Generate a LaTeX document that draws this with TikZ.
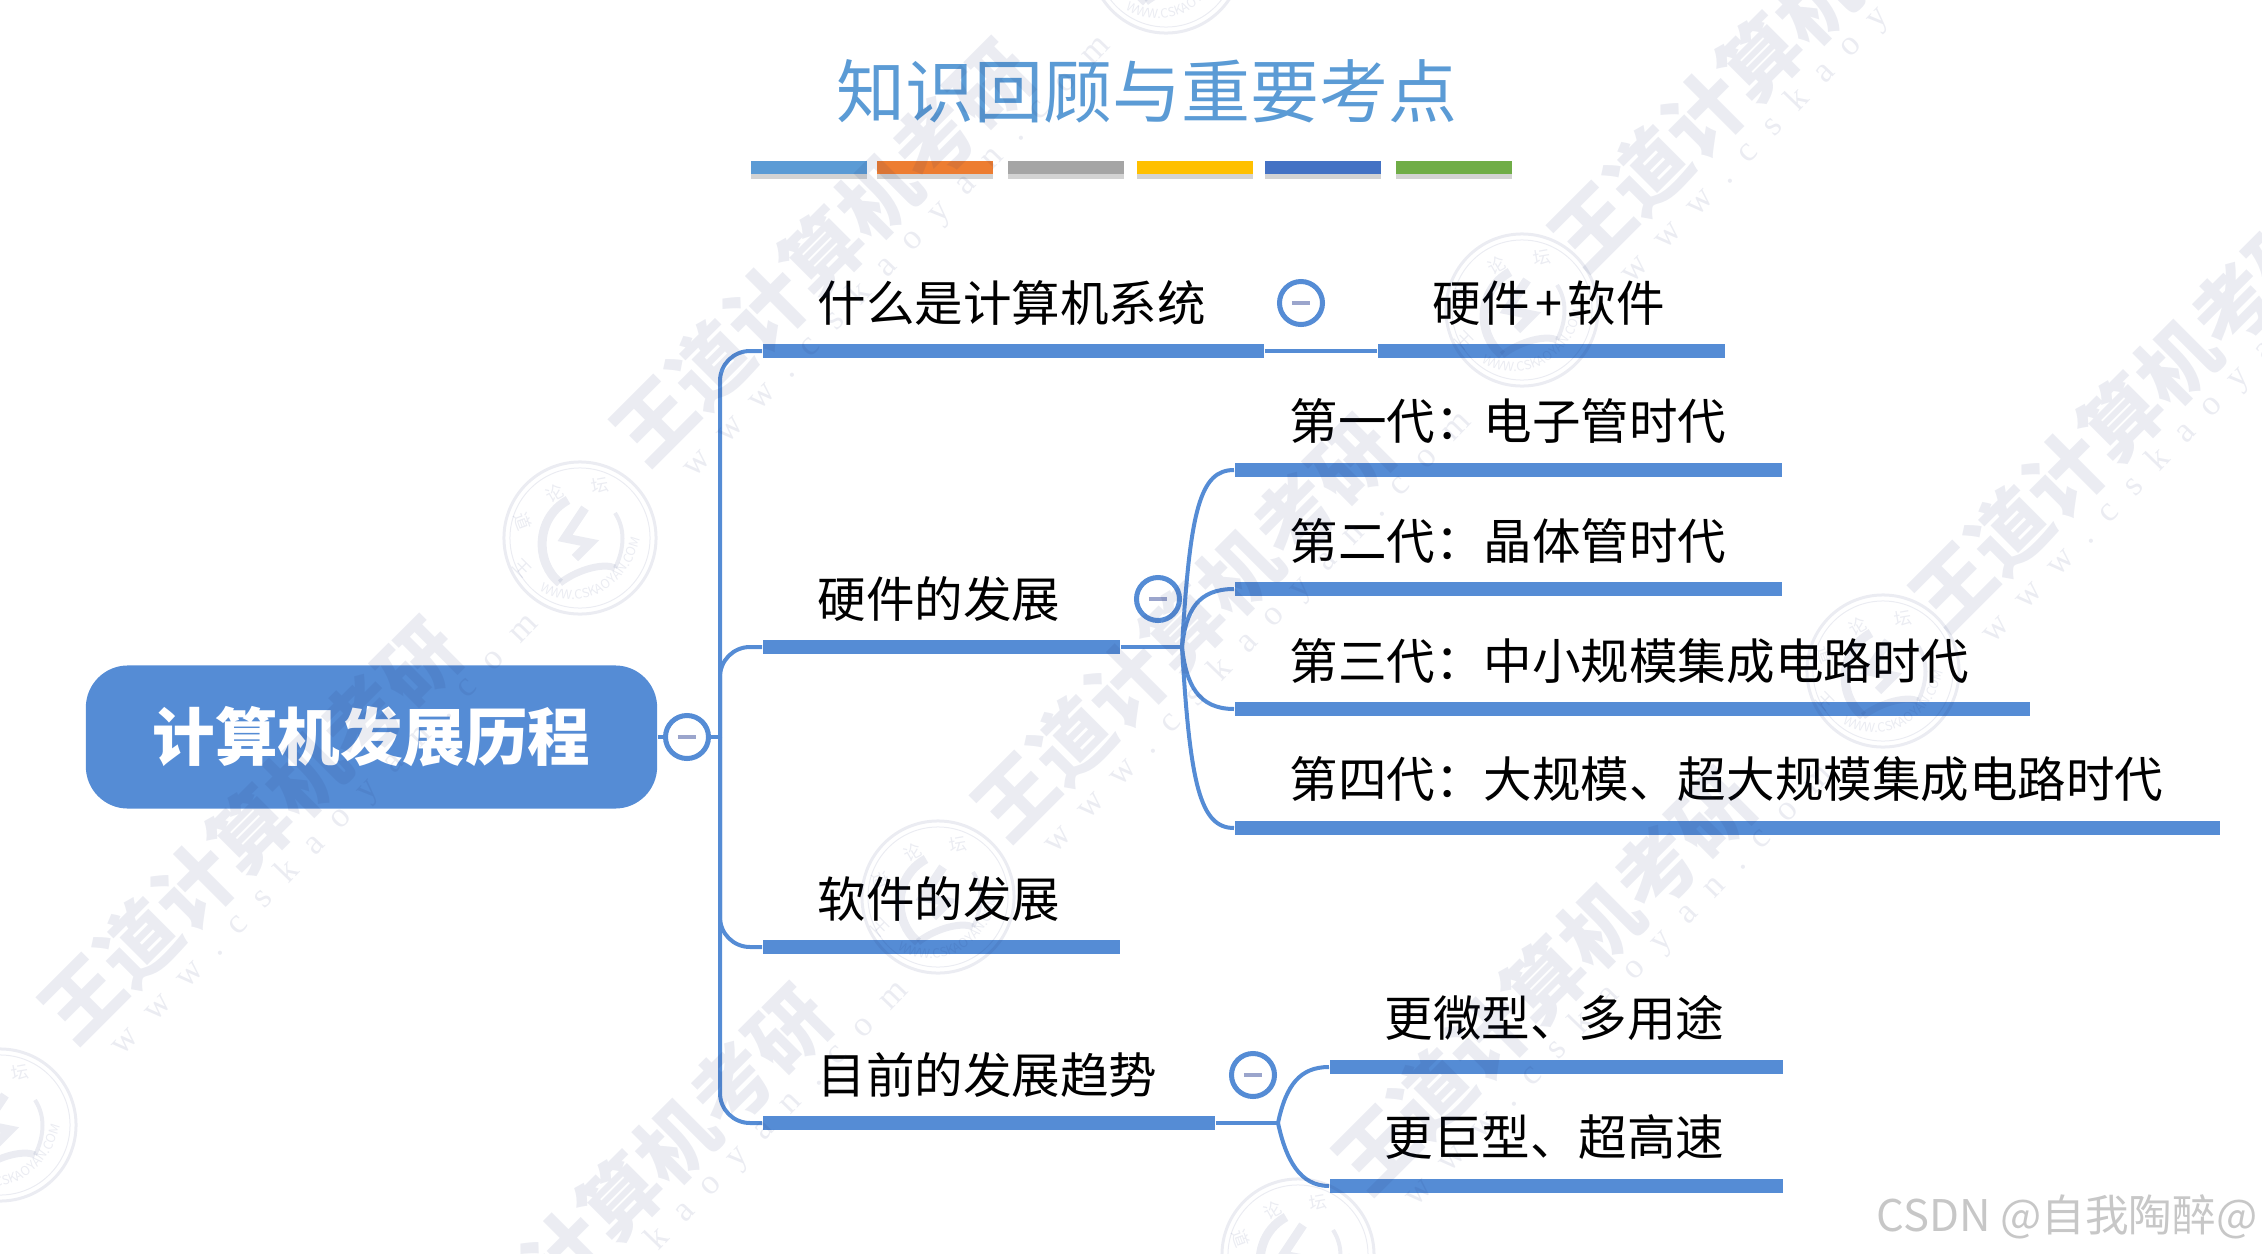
\documentclass[tikz,border=0pt]{standalone}
\usepackage{fontspec}
\usepackage{xcolor}
\usetikzlibrary{calc,shadows,decorations.text}
\setmainfont{Noto Sans CJK SC}
\newfontfamily\urlfont[LetterSpace=60]{Liberation Serif}
\definecolor{mapblue}{HTML}{558CD5}
\definecolor{titleblue}{HTML}{5B9BD5}
\definecolor{minusgray}{HTML}{9BA5CC}
\definecolor{wmcolor}{HTML}{1F2F70}
\tikzset{
  link/.style={draw=mapblue,line width=0.04cm},
  bar/.style={fill=mapblue,anchor=west,minimum height=0.145cm},
  dot/.style={circle,draw=mapblue,line width=0.05cm,fill=white,minimum size=0.43cm},
  topic/.style={anchor=west,font=\fontsize{13.8}{16}\selectfont},
  stripe/.style={anchor=west,minimum width=1.16cm,minimum height=0.13cm,drop shadow={shadow xshift=0cm,shadow yshift=-0.05cm,opacity=0.35}},
  wmtext/.style={rotate=45,font=\fontsize{22.5}{26}\selectfont\bfseries,text=wmcolor},
  wmurl/.style={rotate=46,font=\urlfont\fontsize{10}{12}\selectfont,text=wmcolor},
  wmline/.style={draw=wmcolor,line width=0.03cm}
}
\newcommand{\minusmark}{\textcolor{minusgray}{\rule{5.2pt}{1.4pt}}}
\newcommand{\sealmark}[1]{
\begin{scope}[shift={(#1)}]
\draw [wmline] (0,0) circle (0.76cm);
\draw [wmline,line width=0.01cm] (0,0) circle (0.7cm);
\draw [wmline,line width=0.09cm] (-12,-38) .. controls (-45,-20) and (-45,25) .. (-20,45);
\draw [wmline,line width=0.07cm] (-20,45) .. controls (0,30) and (25,25) .. (35,30);
\draw [wmline,line width=0.04cm] (35,30) .. controls (45,10) and (45,-10) .. (35,-25);
\draw [wmline,line width=0.09cm] (5,-30) -- (-15,0) -- (10,5) -- (-5,20);
\node [text=wmcolor,font=\fontsize{5}{5}\selectfont,rotate=-45] at (-58,30) {王};
\node [text=wmcolor,font=\fontsize{5}{5}\selectfont,rotate=-70] at (-57,-17) {道};
\node [text=wmcolor,font=\fontsize{5}{5}\selectfont,rotate=30] at (-25,-45) {论};
\node [text=wmcolor,font=\fontsize{5}{5}\selectfont,rotate=10] at (20,-53) {坛};
\path [decorate,decoration={text along path,text color=wmcolor,text={|\fontsize{3.6}{4}\selectfont|WWW.CSKAOYAN.COM}}] (-40,52) .. controls (0,78) and (55,50) .. (63,-12);
\end{scope}
}
\begin{document}
\begin{tikzpicture}[x=0.01cm,y=-0.01cm]
\tikzstyle{every node}+=[inner sep=0pt]
\useasboundingbox (0,0) rectangle (2262,1254);
\node [text=titleblue,font=\fontsize{19.6}{24}\selectfont] (title) at (1147,91) {知识回顾与重要考点};
\node [stripe,fill=titleblue] (stripeone) at (750,167) {};
\node [stripe,fill={rgb,255:red,237;green,125;blue,49}] (stripetwo) at (876,167) {};
\node [stripe,fill={rgb,255:red,165;green,165;blue,165}] (stripethree) at (1007,167) {};
\node [stripe,fill={rgb,255:red,255;green,192;blue,0}] (stripefour) at (1136,167) {};
\node [stripe,fill={rgb,255:red,68;green,114;blue,196}] (stripefive) at (1264,167) {};
\node [stripe,fill={rgb,255:red,112;green,173;blue,71}] (stripesix) at (1395,167) {};
\node [fill=mapblue,rounded corners=0.42cm,minimum width=5.71cm,minimum height=1.43cm,text=white,font=\fontsize{17.8}{20}\selectfont\bfseries] (root) at (371.5,737) {计算机发展历程};
\coordinate (trunk) at (720,737);
\node [dot] (rootdot) at (687,737) {\minusmark};
\draw [link] (root.east) -- (rootdot.west);
\draw [link] (rootdot.east) -- (trunk);
\node [bar,minimum width=5.01cm] (whatbar) at (762,351) {};
\node [bar,minimum width=3.57cm] (hardbar) at (762,647) {};
\node [bar,minimum width=3.57cm] (softbar) at (762,947) {};
\node [bar,minimum width=4.52cm] (trendbar) at (762,1123) {};
\draw [link,rounded corners=0.3cm] (trunk) |- (whatbar.west);
\draw [link,rounded corners=0.3cm] (trunk) |- (hardbar.west);
\draw [link,rounded corners=0.3cm] (trunk) |- (softbar.west);
\draw [link,rounded corners=0.3cm] (trunk) |- (trendbar.west);
\node [topic] (what) at (817,303) {什么是计算机系统};
\node [topic] (hard) at (817,599) {硬件的发展};
\node [topic] (soft) at (817,899) {软件的发展};
\node [topic] (trend) at (817,1075) {目前的发展趋势};
\node [dot] (whatdot) at (1301,303) {\minusmark};
\node [dot] (harddot) at (1158,599) {\minusmark};
\node [dot] (trenddot) at (1253,1075) {\minusmark};
\node [bar,minimum width=3.47cm] (whatsub) at (1377,351) {};
\node [topic] (whattext) at (1432,303) {硬件\hspace{1.6pt}+\hspace{1.6pt}软件};
\draw [link] (whatbar.east) -- (whatsub.west);
\coordinate (hardfork) at (1182,647);
\draw [link] (hardbar.east) -- (hardfork);
\node [bar,minimum width=5.47cm] (genonebar) at (1234,470) {};
\node [bar,minimum width=5.47cm] (gentwobar) at (1234,589) {};
\node [bar,minimum width=7.95cm] (genthreebar) at (1234,709) {};
\node [bar,minimum width=9.85cm] (genfourbar) at (1234,828) {};
\draw [link] (hardfork) .. controls (1190,510) and (1200,470) .. (genonebar.west);
\draw [link] (hardfork) .. controls (1186,610) and (1198,589) .. (gentwobar.west);
\draw [link] (hardfork) .. controls (1186,684) and (1198,709) .. (genthreebar.west);
\draw [link] (hardfork) .. controls (1190,784) and (1200,828) .. (genfourbar.west);
\node [topic] (genone) at (1289,421) {第一代：电子管时代};
\node [topic] (gentwo) at (1289,541) {第二代：晶体管时代};
\node [topic] (genthree) at (1289,661) {第三代：中小规模集成电路时代};
\node [topic] (genfour) at (1289,779) {第四代：大规模、超大规模集成电路时代};
\coordinate (trendfork) at (1278,1123);
\draw [link] (trendbar.east) -- (trendfork);
\node [bar,minimum width=4.53cm] (microbar) at (1329,1067) {};
\node [bar,minimum width=4.53cm] (hugebar) at (1329,1186) {};
\draw [link] (trendfork) .. controls (1286,1085) and (1300,1067) .. (microbar.west);
\draw [link] (trendfork) .. controls (1286,1160) and (1300,1186) .. (hugebar.west);
\node [topic] (micro) at (1384,1018) {更微型、多用途};
\node [topic] (huge) at (1384,1137) {更巨型、超高速};
\node [anchor=east,text=black!22,font=\fontsize{12.4}{15}\selectfont] (csdn) at (2258,1217) {CSDN @自我陶醉@};
\begin{scope}[opacity=0.09]
\foreach \wmx/\wmy in {250/830,822/252,1183/628,1544/981,2121/418,1760/58,620/1197}{
\node [wmtext] at (\wmx,\wmy) {王道计算机考研};
\node [wmurl] at ($(\wmx,\wmy)+(75,5)$) {www.cskaoyan.com};
}
\foreach \sealx/\sealy in {580/538,1522/310,938/897,1883/671,1298/1255,1166/-43,0/1125}{
\sealmark{\sealx,\sealy}
}
\end{scope}
\end{tikzpicture}
\end{document}
